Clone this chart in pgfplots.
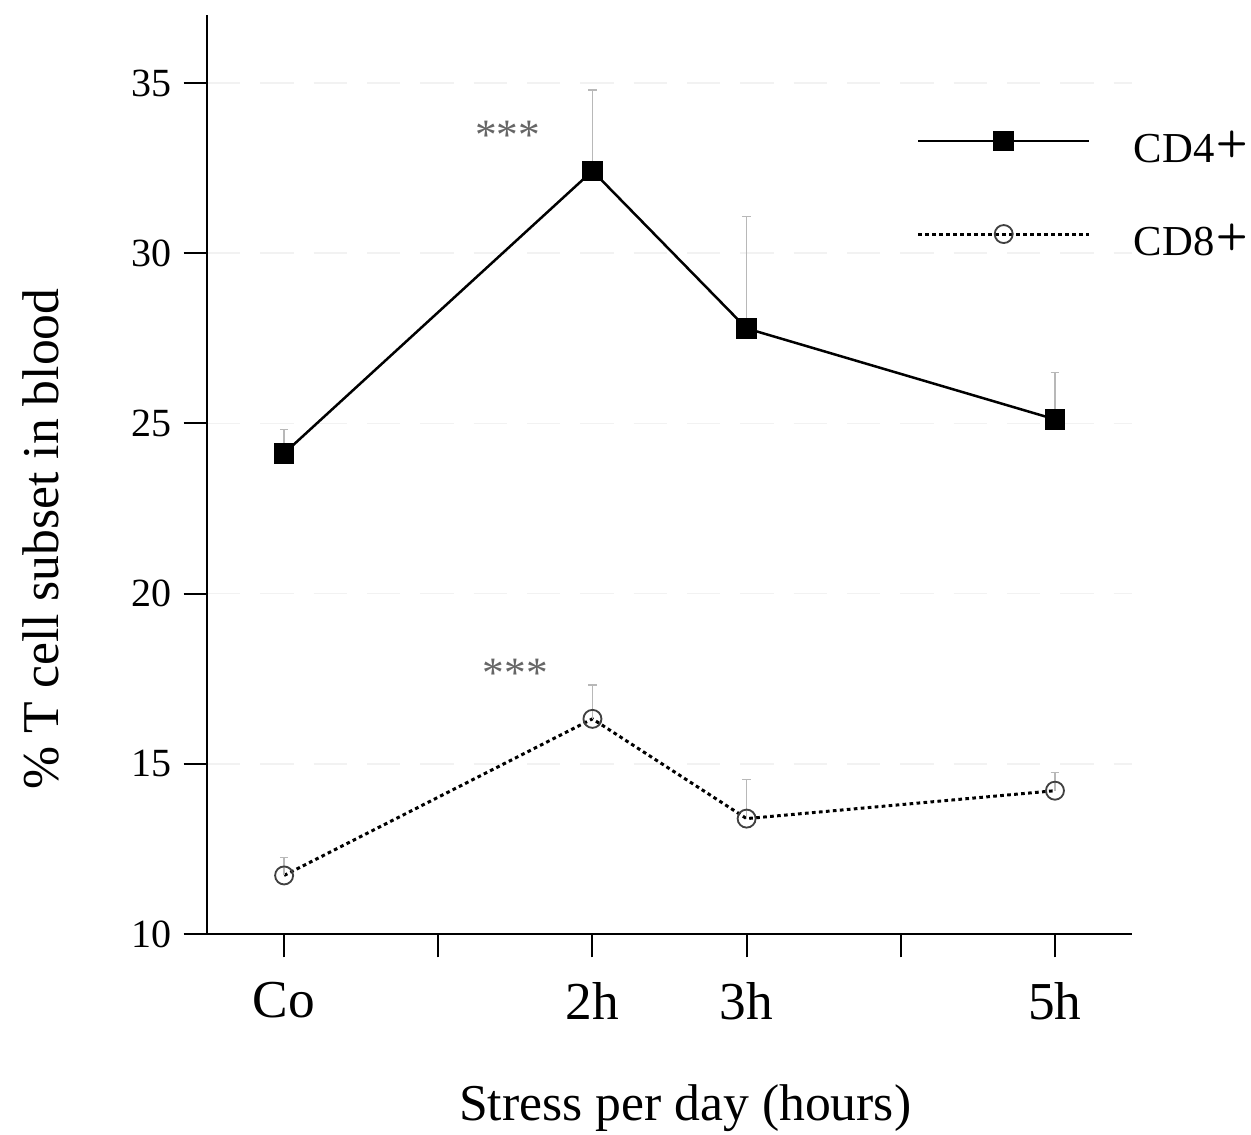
\documentclass[border=0pt]{standalone}
\usepackage{fontspec}
\setmainfont{Liberation Serif}
\usepackage{pgfplots}
\pgfplotsset{compat=1.18}
\newcommand{\plus}{\kern0.5pt\raisebox{0.45ex}{\fontsize{11}{12}\selectfont\sffamily\bfseries +}}
\begin{document}
\begin{tikzpicture}
\begin{axis}[
  scale only axis,
  width=277.5pt, height=275.7pt,
  xmin=-0.5, xmax=5.5, ymin=10, ymax=37,
  axis x line*=bottom, axis y line*=left,
  axis line style={line width=0.6pt, -},
  xtick={0,1,2,3,4,5},
  xticklabels={Co,,2h,3h,,5h},
  ytick={10,15,20,25,30,35},
  tick align=outside,
  xtick style={line width=0.6pt, black},
  ytick style={line width=0.6pt, black},
  x tick label style={font=\fontsize{16}{18}\selectfont, yshift=-4pt},
  y tick label style={font=\fontsize{12}{14}\selectfont},
  /pgf/number format/assume math mode=true,
  major tick length=7pt,
  ymajorgrids,
  grid style={black!5, dash pattern=on 10pt off 6pt, line width=0.5pt},
  xlabel={Stress per day (hours)},
  ylabel={\% T cell subset in blood},
  xlabel style={font=\fontsize{15.5}{17}\selectfont, at={(rel axis cs:0.517,-0.19)}, anchor=center},
  ylabel style={font=\fontsize{15.5}{17}\selectfont, at={(rel axis cs:-0.18,0.43)}, anchor=center},
  clip=false,
  legend style={draw=none, fill=none, at={(axis cs:4.035,34.0)}, anchor=north west,
    font=\fontsize{12.8}{15}\selectfont, row sep=18pt, legend cell align=left},
  legend image code/.code={\draw[mark repeat=2,mark phase=2,#1] plot coordinates {(0cm,0cm) (0.9cm,0cm) (1.8cm,0cm)};},
]
\addplot[black, line width=0.75pt, mark=square*, mark size=2.7pt, mark options={solid, fill=black},
  error bars/.cd, y dir=plus, y explicit,
  error bar style={black!28, line width=0.4pt},
  error mark options={rotate=90, mark size=1.3pt, black!28}]
  coordinates {(0,24.12) +- (0,0.7) (2,32.42) +- (0,2.38) (3,27.79) +- (0,3.28) (5,25.12) +- (0,1.38)};
\addlegendentry{\hspace{11pt}\raisebox{-5pt}{CD4\plus}}
\addplot[black, line width=0.9pt, dash pattern=on 1.1pt off 1pt, mark=o, mark size=2.7pt, mark options={solid, fill=white, line width=0.55pt, black!75},
  error bars/.cd, y dir=plus, y explicit,
  error bar style={black!28, line width=0.4pt, solid},
  error mark options={rotate=90, mark size=1.3pt, black!28}]
  coordinates {(0,11.72) +- (0,0.52) (2,16.32) +- (0,1.0) (3,13.39) +- (0,1.14) (5,14.21) +- (0,0.53)};
\addlegendentry{\hspace{11pt}\raisebox{-5pt}{CD8\plus}}
\node[font=\fontsize{13}{15}\selectfont, black!60] at (axis cs:1.45,33.45) {***};
\node[font=\fontsize{13}{15}\selectfont, black!60] at (axis cs:1.5,17.65) {***};
\coordinate (bl) at (rel axis cs:-0.2238,-0.2187);
\coordinate (tr) at (rel axis cs:1.1286,1.0163);
\end{axis}
\pgfresetboundingbox
\path[use as bounding box] (bl) rectangle (tr);
\end{tikzpicture}
\end{document}
